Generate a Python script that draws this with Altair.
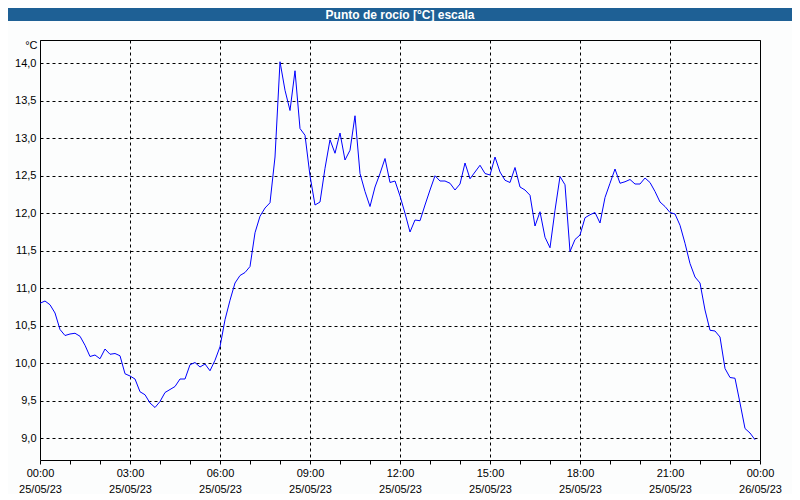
import altair as alt
import pandas as pd

# ---- data -------------------------------------------------------------
minutes = list(range(0, 1440, 10))  # 10-minute readings, 25/05/23
dew_point = [
    10.80, 10.83, 10.78, 10.67, 10.45, 10.37, 10.39, 10.40, 10.36, 10.24,
    10.09, 10.11, 10.06, 10.19, 10.12, 10.13, 10.10, 9.86, 9.83, 9.79,
    9.62, 9.58, 9.47, 9.41, 9.49, 9.61, 9.65, 9.69, 9.79, 9.79,
    9.98, 10.01, 9.95, 9.99, 9.90, 10.04, 10.22, 10.58, 10.84, 11.07,
    11.17, 11.21, 11.29, 11.74, 11.96, 12.07, 12.14, 12.75, 14.02, 13.64,
    13.37, 13.90, 13.13, 13.04, 12.50, 12.11, 12.15, 12.60, 12.98, 12.80,
    13.07, 12.71, 12.84, 13.30, 12.53, 12.29, 12.09, 12.35, 12.53, 12.73,
    12.41, 12.43, 12.23, 12.00, 11.75, 11.91, 11.90, 12.11, 12.31, 12.50,
    12.43, 12.43, 12.40, 12.31, 12.39, 12.67, 12.46, 12.55, 12.64, 12.53,
    12.51, 12.75, 12.55, 12.44, 12.41, 12.61, 12.35, 12.31, 12.24, 11.83,
    12.02, 11.68, 11.54, 12.04, 12.49, 12.38, 11.49, 11.65, 11.71, 11.94,
    11.98, 12.01, 11.87, 12.21, 12.40, 12.59, 12.40, 12.42, 12.45, 12.39,
    12.39, 12.47, 12.41, 12.29, 12.15, 12.09, 12.01, 11.99, 11.84, 11.60,
    11.33, 11.15, 11.07, 10.71, 10.44, 10.43, 10.35, 9.93, 9.81, 9.80,
    9.47, 9.13, 9.07, 8.98,
]
tick_minutes = list(range(0, 1441, 60))
y_ticks = [9.0, 9.5, 10.0, 10.5, 11.0, 11.5, 12.0, 12.5, 13.0, 13.5, 14.0]
title_text = "Punto de rocío [°C] escala"
unit_label = "°C"

df = pd.DataFrame({"t": minutes, "v": dew_point})

FONT = "Liberation Sans"

x_label_expr = (
    "datum.value % 180 == 0 ? ["
    "(floor(datum.value/60) % 24 < 10 ? '0' : '') + (floor(datum.value/60) % 24) + ':00', "
    "datum.value >= 1440 ? '26/05/23' : '25/05/23'] : ''"
)

x_enc = alt.X(
    "t:Q",
    scale=alt.Scale(domain=[0, 1440], nice=False, zero=False),
    axis=alt.Axis(
        values=tick_minutes,
        labelExpr=x_label_expr,
        title=None,
        domain=False,
        ticks=True,
        tickSize=4,
        tickColor="black",
        labelPadding=3,
        labelFlush=False,
        labelBound=False,
        labelOverlap=False,
        labelLineHeight=16,
        labelBaseline="top",
        labelFont=FONT,
        labelFontSize=11,
        labelColor="black",
        grid=True,
        gridColor="black",
        gridDash=[3, 3],
        gridWidth=1,
        gridOpacity={"condition": {"test": "datum.value % 180 == 0", "value": 1}, "value": 0},
    ),
)

y_enc = alt.Y(
    "v:Q",
    scale=alt.Scale(domain=[8.71, 14.31], nice=False, zero=False),
    axis=alt.Axis(
        values=y_ticks,
        labelExpr="replace(format(datum.value, '.1f'), '.', ',')",
        domain=False,
        ticks=False,
        labelPadding=4,
        labelFont=FONT,
        labelFontSize=11,
        labelColor="black",
        grid=True,
        gridColor="black",
        gridDash=[3, 3],
        gridWidth=1,
        title=unit_label,
        titleAngle=0,
        titleX=-3,
        titleY=5,
        titleAlign="right",
        titleBaseline="middle",
        titleFont=FONT,
        titleFontSize=11,
        titleFontWeight="normal",
        titleColor="black",
    ),
)

line = alt.Chart(df).mark_line(color="#0000ff", strokeWidth=1).encode(x=x_enc, y=y_enc)

title_bar = alt.Chart(alt.Data(values=[{"k": 1}])).mark_rect(color="#1e6095").encode(
    x=alt.value(-32), x2=alt.value(752), y=alt.value(-32), y2=alt.value(-19)
)
title_mark = alt.Chart(alt.Data(values=[{"k": 1}])).mark_text(
    font=FONT, fontSize=12, fontWeight="bold", color="white", align="center", baseline="middle"
).encode(x=alt.value(360), y=alt.value(-25.5), text=alt.value(title_text))

chart = (
    alt.layer(title_bar, title_mark, line)
    .properties(width=720, height=420, padding=0, background="#fcfdfd")
    .configure_view(stroke="black", strokeWidth=1)
)

chart.save("out.html", embed_options={"renderer": "svg", "actions": False})
